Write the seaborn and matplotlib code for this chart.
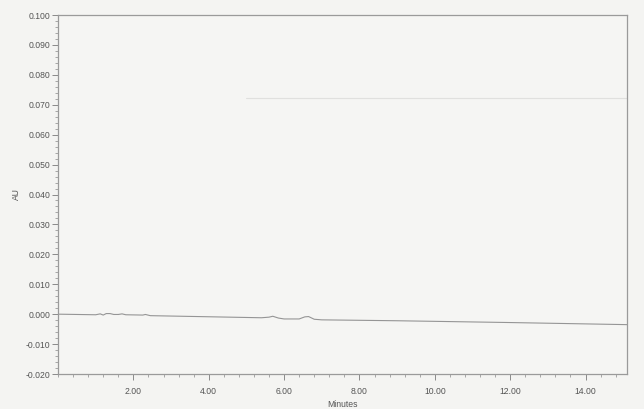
import numpy as np
import pandas as pd
import matplotlib
matplotlib.use("Agg")
import matplotlib.pyplot as plt
import seaborn as sns
from matplotlib.ticker import MultipleLocator, FormatStrFormatter

# chromatogram trace (minutes, AU)
minutes = [0.0, 1.0, 1.12, 1.2, 1.28, 1.38, 1.48, 1.6, 1.7, 1.8, 2.25, 2.32, 2.45,
           5.4, 5.6, 5.7, 5.85, 6.0, 6.4, 6.55, 6.65, 6.8, 7.0, 9.0, 12.0, 15.1]
au = [0.0, -0.0002, 0.0001, -0.0003, 0.0002, 0.0002, -0.0001, -0.0001, 0.0001, -0.0002,
      -0.0003, -0.0001, -0.0005, -0.0012, -0.0010, -0.0007, -0.0013, -0.0016, -0.0016,
      -0.0009, -0.0008, -0.0017, -0.0019, -0.0022, -0.0028, -0.0035]

# faint scan artefact line across the upper part of the page
artefact_x = [5.0, 15.1]
artefact_y = [0.0723, 0.0723]

df = pd.DataFrame({"Minutes": minutes, "AU": au})

sns.set_style("ticks")
plt.rcParams['font.family'] = ['Liberation Sans', 'DejaVu Sans']

fig = plt.figure(figsize=(6.44, 4.09), dpi=100, facecolor="#f4f4f2")
ax = fig.add_axes([58 / 644, 1 - 374 / 409, (627 - 58) / 644, (374 - 15) / 409])
ax.set_facecolor("#f5f5f3")

sns.lineplot(data=df, x="Minutes", y="AU", ax=ax, color="#959595", linewidth=0.8)
ax.plot(artefact_x, artefact_y, color="#e0e0de", linewidth=0.8)

ax.set_xlim(0, 15.1)
ax.set_ylim(-0.020, 0.100)
ax.xaxis.set_major_locator(MultipleLocator(2))
ax.xaxis.set_minor_locator(MultipleLocator(0.4))
ax.yaxis.set_major_locator(MultipleLocator(0.01))
ax.yaxis.set_minor_locator(MultipleLocator(0.002))
ax.xaxis.set_major_formatter(FormatStrFormatter("%.2f"))
ax.yaxis.set_major_formatter(FormatStrFormatter("%.3f"))
ax.set_xticks([2, 4, 6, 8, 10, 12, 14])

for s in ax.spines.values():
    s.set_color("#9a9a9a")
    s.set_linewidth(0.9)
ax.tick_params(which="major", length=4, width=0.7, color="#8a8a8a", labelsize=6.2,
               labelcolor="#555555", pad=1.5)
ax.tick_params(axis="x", which="major", pad=5)
ax.tick_params(which="minor", length=2, width=0.6, color="#9a9a9a")

ax.set_xlabel("Minutes", fontsize=6.2, color="#555555", labelpad=3)
ax.set_ylabel("AU", fontsize=6.2, color="#555555", labelpad=3)

fig.savefig("out.png", dpi=100, facecolor=fig.get_facecolor())
